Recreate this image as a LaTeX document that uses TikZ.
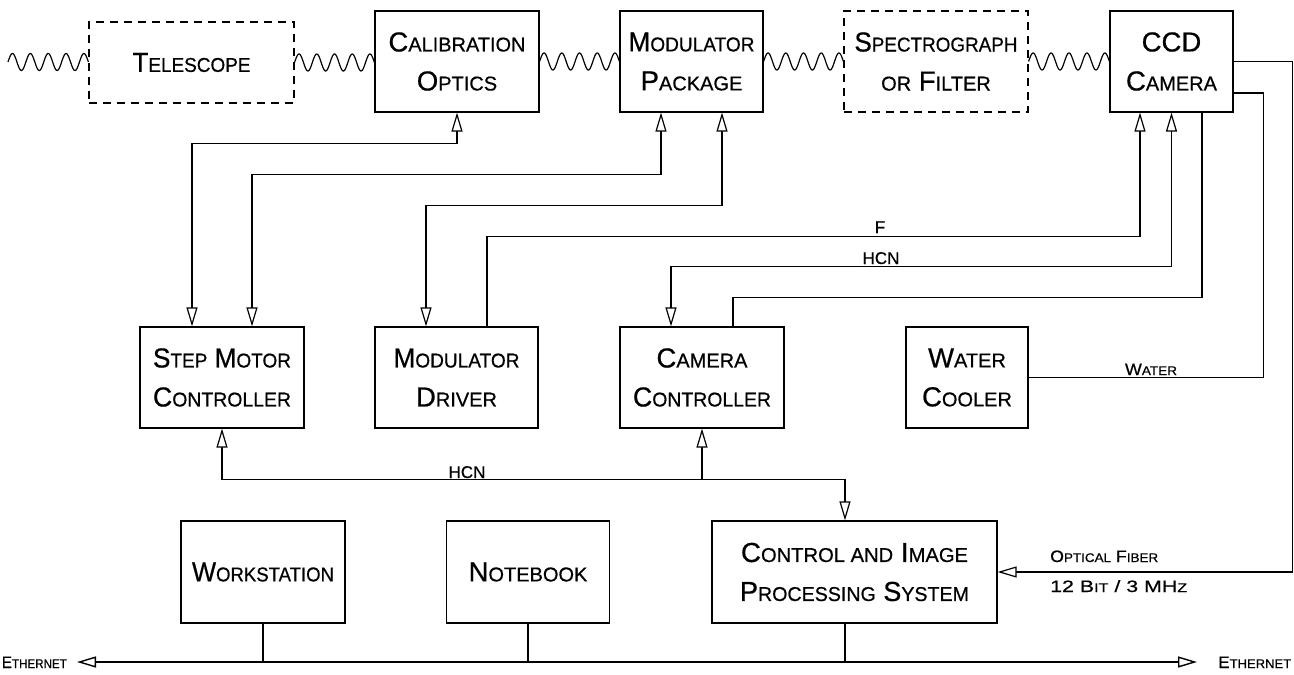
\documentclass[tikz,border=0pt]{standalone}
\usepackage{fontspec}
\setmainfont{Liberation Sans}[FakeBold=0.6]
\usepackage{graphicx}
\usetikzlibrary{arrows.meta,calc}

% small-capital letters inside the boxes and on the wires
\newcommand\capsm[1]{{\fontsize{20}{24}\selectfont #1}}
\newcommand\labsm[1]{{\fontsize{12.5}{14}\selectfont #1}}
% stretch a label to a given width
\newcommand\fitw[2]{\resizebox{#1}{\height}{#2}}
% light path: a sine wave of four and a half periods between two points
\newcommand\wavy[2]{\draw[wire] let \p1=(#1), \p2=(#2) in
  plot[variable=\t,domain=0:1,samples=121,smooth]
  ({\x1+\t*(\x2-\x1)},{\y1+8.5*sin(1620*\t)});}

\begin{document}
\begin{tikzpicture}[x=1pt,y=-1pt,
  wire/.style={line width=1.2pt},
  box/.style={draw,line width=1.2pt,minimum height=101pt,inner sep=0pt,
    align=center,font=\fontsize{27.5}{39}\selectfont},
  dbox/.style={box,dash pattern=on 8pt off 6pt},
  tip/.style={wire,-{Triangle[length=19pt,width=11pt,fill=white]}},
  bitip/.style={wire,{Triangle[length=19pt,width=11pt,fill=white]}-{Triangle[length=19pt,width=11pt,fill=white]}},
  wlab/.style={inner sep=0pt,anchor=base,font=\fontsize{17}{20}\selectfont},
  slab/.style={inner sep=0pt,font=\fontsize{16.5}{18}\selectfont}]
\useasboundingbox (0,0) rectangle (1294,675);

% optical train
\node[dbox,minimum width=205pt,minimum height=81pt] (tel) at (191.5,62.5) {\fitw{118pt}{T\capsm{ELESCOPE}}};
\node[box,minimum width=164pt] (cal) at (457,61.5) {\fitw{137pt}{C\capsm{ALIBRATION}}\\O\capsm{PTICS}};
\node[box,minimum width=143pt] (modp) at (691.5,61.5) {\fitw{126pt}{M\capsm{ODULATOR}}\\P\capsm{ACKAGE}};
\node[dbox,minimum width=184pt] (spec) at (936,61.5) {\fitw{163pt}{S\capsm{PECTROGRAPH}}\\\capsm{OR} F\capsm{ILTER}};
\node[box,minimum width=123pt] (ccd) at (1171.5,61.5) {CCD\\C\capsm{AMERA}};

% controllers
\node[box,minimum width=164pt] (smc) at (222,377.5) {\fitw{138pt}{S\capsm{TEP} M\capsm{OTOR}}\\\fitw{138pt}{C\capsm{ONTROLLER}}};
\node[box,minimum width=163pt] (mdrv) at (456.5,377.5) {\fitw{126pt}{M\capsm{ODULATOR}}\\D\capsm{RIVER}};
\node[box,minimum width=164pt] (cctl) at (702,377.5) {C\capsm{AMERA}\\\fitw{138pt}{C\capsm{ONTROLLER}}};
\node[box,minimum width=122pt] (wcool) at (967,377.5) {W\capsm{ATER}\\C\capsm{OOLER}};

% computers
\node[box,minimum width=164pt,minimum height=102pt] (ws) at (263,572) {\fitw{142pt}{W\capsm{ORKSTATION}}};
\node[box,minimum width=163pt,minimum height=102pt] (nb) at (528,572) {N\capsm{OTEBOOK}};
\node[box,minimum width=285pt,minimum height=102pt] (cips) at (854.5,572) {\fitw{227pt}{C\capsm{ONTROL AND} I\capsm{MAGE}}\\\fitw{229pt}{P\capsm{ROCESSING} S\capsm{YSTEM}}};

% light path
\coordinate (src) at (8,62);
\wavy{src}{tel.west}
\wavy{tel.east}{cal.west}
\wavy{cal.east}{modp.west}
\wavy{modp.east}{spec.west}
\wavy{spec.east}{ccd.west}

% step motor lines
\draw[bitip] ([xshift=-30pt]smc.north) |- ($(cal.south)+(0,31)$) -- (cal.south);
\draw[bitip] ([xshift=30pt]smc.north) |- ($([xshift=-30.5pt]modp.south)+(0,62)$) -- ([xshift=-30.5pt]modp.south);
% modulator drive
\draw[bitip] ([xshift=-30.5pt]mdrv.north) |- ($([xshift=30.5pt]modp.south)+(0,93)$) -- ([xshift=30.5pt]modp.south);
\draw[tip] ([xshift=30.5pt]mdrv.north) |- ($([xshift=-31.5pt]ccd.south)+(0,124)$) -- ([xshift=-31.5pt]ccd.south);
\node[wlab] (lf) at (880,233) {F};
% camera lines
\draw[bitip] ([xshift=-31pt]cctl.north) |- ($(ccd.south)+(0,154)$) -- (ccd.south);
\node[wlab] (lhcn1) at (881,264) {HCN};
\draw[wire] ([xshift=31pt]cctl.north) |- ($([xshift=30.5pt]ccd.south)+(0,185)$) -- ([xshift=30.5pt]ccd.south);
% cooling
\draw[wire] ([yshift=-31.5pt]ccd.east) -| ($(wcool.east)+(235,0)$) -- (wcool.east);
\node[slab,anchor=base] (lwater) at (1151,375) {\fitw{52pt}{W\labsm{ATER}}};
% optical fiber
\draw[tip] (ccd.east) -| ($(cips.east)+(295,0)$) -- (cips.east);
\node[slab,anchor=base west] (lfib) at (1050,562) {\fitw{108pt}{O\labsm{PTICAL} F\labsm{IBER}}};
\node[slab,anchor=base west] (lbit) at (1050,592) {\fitw{137pt}{12 B\labsm{IT} / 3 MH\labsm{Z}}};

% control bus
\coordinate (hbus) at ($([xshift=-9.5pt]cips.north)+(0,-41)$);
\draw[bitip] (smc.south) |- (hbus) -- ([xshift=-9.5pt]cips.north);
\draw[tip] (hbus -| cctl.south) -- (cctl.south);
\node[wlab] (lhcn2) at (467,478) {HCN};

% network
\coordinate (ethL) at (77,662);
\coordinate (ethR) at (1197,662);
\draw[bitip,line width=1.4pt] (ethL) -- (ethR);
\draw[wire] (ws.south) -- (ws.south |- ethL);
\draw[wire] (nb.south) -- (nb.south |- ethL);
\draw[wire] ([xshift=-9.5pt]cips.south) -- ([xshift=-9.5pt]cips.south |- ethL);
\node[slab,anchor=base east] (leth1) at (67,668) {\fitw{65pt}{E\labsm{THERNET}}};
\node[slab,anchor=base west] (leth2) at (1218,668) {\fitw{73pt}{E\labsm{THERNET}}};
\end{tikzpicture}
\end{document}
